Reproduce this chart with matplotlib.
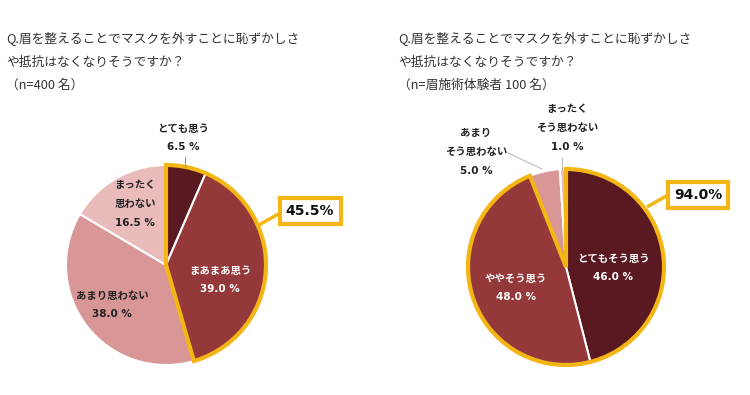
import matplotlib
matplotlib.use("Agg")
import matplotlib.pyplot as plt
from matplotlib.patches import Wedge

plt.rcParams['font.family'] = ['Noto Sans CJK JP', 'DejaVu Sans']
LABEL_FAMILY = ['DejaVu Sans', 'Noto Sans CJK JP']

# ---- data ----
title_left = "Q.眉を整えることでマスクを外すことに恥ずかしさ\nや抵抗はなくなりそうですか？\n（n=400 名）"
title_right = "Q.眉を整えることでマスクを外すことに恥ずかしさ\nや抵抗はなくなりそうですか？\n（n=眉施術体験者 100 名）"

left_labels = ["とても思う", "まあまあ思う", "あまり思わない", "まったく\n思わない"]
left_values = [6.5, 39.0, 38.0, 16.5]

right_labels = ["とてもそう思う", "ややそう思う", "あまり\nそう思わない", "まったく\nそう思わない"]
right_values = [46.0, 48.0, 5.0, 1.0]

colors = ["#5A1820", "#94383A", "#D89696", "#E9BBBB"]
gold = "#F3B614"

W, H = 750, 395
fig = plt.figure(figsize=(7.5, 3.95), dpi=100)
ax = fig.add_axes([0, 0, 1, 1])


def Y(y):
    return H - y


def draw_pie(values, cx, cy, r):
    ax.pie(values, colors=colors, startangle=90, counterclock=False,
           center=(cx, Y(cy)), radius=r,
           wedgeprops=dict(edgecolor="white", linewidth=1.5))
    hi = values[0] + values[1]
    t1 = 90 - hi / 100 * 360
    ax.add_patch(Wedge((cx, Y(cy)), r, t1, 90, fill=False,
                       edgecolor=gold, linewidth=3, joinstyle="miter", zorder=5))
    return hi


def callout(hi, line_pts, box_xy):
    (x0, y0), (x1, y1) = line_pts
    ax.plot([x0, x1], [Y(y0), Y(y1)], color=gold, lw=2.5, zorder=6,
            solid_capstyle="butt")
    ax.text(box_xy[0], Y(box_xy[1]), f"{hi:.1f}%", ha="center", va="center",
            fontsize=10, fontweight="bold", color="#111111", zorder=7,
            family=LABEL_FAMILY,
            bbox=dict(boxstyle="square,pad=0.45", facecolor="white",
                      edgecolor=gold, linewidth=3))


def lab(x, y, s, color="#222222"):
    ax.text(x, Y(y), s, ha="center", va="center", fontsize=7.5,
            fontweight="bold", color=color, linespacing=2.1, zorder=8,
            family=LABEL_FAMILY)


# ---- left pie ----
hiL = draw_pie(left_values, 166, 265, 100)
callout(hiL, [(257, 226), (282, 212)], (310, 211))
lab(183, 138, f"{left_labels[0]}\n{left_values[0]:.1f} %")
ax.plot([185, 185], [Y(157), Y(167)], color="#999999", lw=0.8, zorder=6)
lab(220, 280, f"{left_labels[1]}\n{left_values[1]:.1f} %", color="white")
lab(112, 305, f"{left_labels[2]}\n{left_values[2]:.1f} %")
lab(135, 204, f"{left_labels[3]}\n{left_values[3]:.1f} %")

# ---- right pie ----
hiR = draw_pie(right_values, 566, 267, 98)
callout(hiR, [(647, 207), (668, 195)], (698, 195))
lab(613, 268, f"{right_labels[0]}\n{right_values[0]:.1f} %", color="white")
lab(516, 288, f"{right_labels[1]}\n{right_values[1]:.1f} %", color="white")
lab(476, 152, f"{right_labels[2]}\n{right_values[2]:.1f} %")
ax.plot([508, 542], [Y(153), Y(169)], color="#BBBBBB", lw=0.8, zorder=6)
lab(567, 128, f"{right_labels[3]}\n{right_values[3]:.1f} %")
ax.plot([562, 562], [Y(158), Y(170)], color="#BBBBBB", lw=0.8, zorder=6)

# ---- titles ----
ax.text(6, Y(62), title_left, ha="left", va="center", fontsize=9.2,
        color="#333333", linespacing=1.95)
ax.text(398, Y(62), title_right, ha="left", va="center", fontsize=9.2,
        color="#333333", linespacing=1.95)

ax.set_xlim(0, W)
ax.set_ylim(0, H)
ax.set_aspect("equal")
ax.axis("off")
fig.savefig("out.png", dpi=100)
